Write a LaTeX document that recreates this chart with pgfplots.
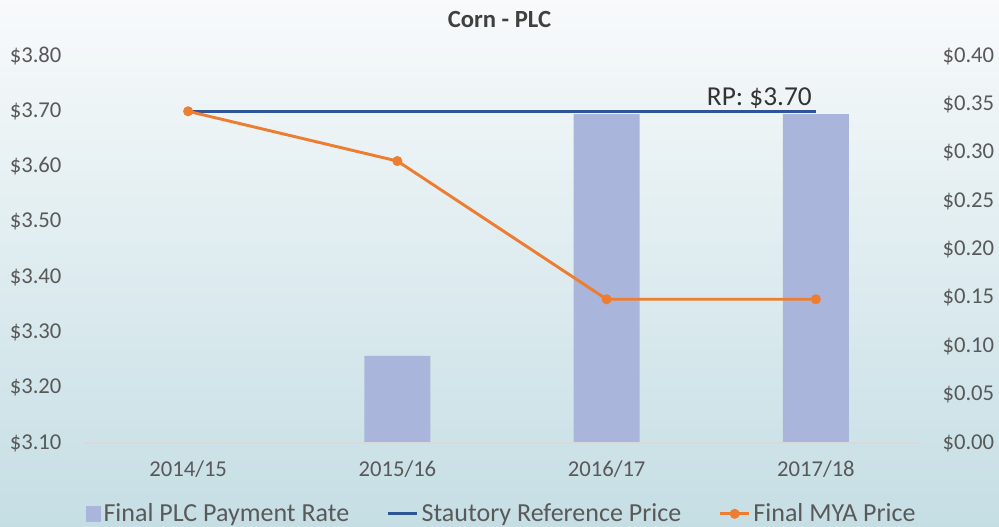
\documentclass[border=0pt]{standalone}
\usepackage{pgfplots}
\pgfplotsset{compat=1.18}
\usepackage{fontspec}
\setmainfont{Carlito}
\definecolor{barblue}{HTML}{A9B5DB}
\definecolor{refblue}{HTML}{2F5597}
\definecolor{myaorange}{HTML}{ED7D31}
\definecolor{labgray}{HTML}{595959}
\definecolor{bgtop}{HTML}{F8FAFB}
\definecolor{bgbot}{HTML}{C5DEE4}
\pgfplotsset{
  common/.style={
    scale only axis, width=627.75pt, height=290.25pt,
    at={(62.625pt,63pt)}, anchor=south west,
    xmin=-0.5, xmax=3.5, xtick={0,1,2,3},
    xticklabels={2014/15,2015/16,2016/17,2017/18},
    major tick length=0pt,
    tick label style={font=\fontsize{17}{19}\selectfont, text=labgray},
    /pgf/number format/assume math mode=true,
    yticklabel={\$\pgfmathprintnumber[fixed,fixed zerofill,precision=2]{\tick}},
    y axis line style={draw=none},
    clip=false,
  },
}
\begin{document}
\begin{tikzpicture}[x=0.75pt,y=0.75pt]
\shade[top color=bgtop, bottom color=bgbot] (0,0) rectangle (999,527);
% bars on the right axis
\begin{axis}[common, axis y line*=right, axis x line=none,
  ymin=0, ymax=0.4, ytick={0,0.05,...,0.4},
  yticklabel style={xshift=13pt},
  ybar, bar width=49.5pt]
\addplot[fill=barblue, draw=none] coordinates {(0,0) (1,0.09) (2,0.34) (3,0.34)};
\end{axis}
% prices on the left axis
\begin{axis}[common, axis y line*=left, axis x line*=bottom,
  x axis line style={draw=black!15, line width=1.5pt},
  ymin=3.1, ymax=3.8, ytick={3.1,3.2,...,3.8},
  yticklabel style={xshift=-13pt},
  xticklabel style={yshift=-10pt},
  legend columns=3,
  legend style={at={(0.5,-0.183)}, anchor=center, draw=none, fill=none,
    font=\fontsize{19.5}{21}\selectfont, text=labgray,
    /tikz/every even column/.append style={column sep=26pt},
    inner sep=0pt},
  legend cell align=left]
\addlegendimage{legend image code/.code={\fill[barblue] (0pt,-5.5pt) rectangle (11pt,5.5pt);}}
\addlegendentry{Final PLC Payment Rate}
\addplot[refblue, line width=2.3pt, legend image code/.code={\draw[refblue, line width=2.3pt] (0pt,0pt) -- (22pt,0pt);}]
  coordinates {(0,3.70) (1,3.70) (2,3.70) (3,3.70)};
\addlegendentry{Stautory Reference Price}
\addplot[myaorange, line width=2.2pt, mark=*, mark size=2.6pt, mark options={fill=myaorange, draw=myaorange},
  legend image code/.code={\draw[myaorange, line width=2.2pt] (0pt,0pt) -- (22pt,0pt); \fill[myaorange] (11pt,0pt) circle (2.6pt);}]
  coordinates {(0,3.70) (1,3.61) (2,3.36) (3,3.36)};
\addlegendentry{Final MYA Price}
\node[anchor=south, font=\fontsize{20.5}{22}\selectfont, text=black!80, inner sep=2pt] at (axis cs:2.73,3.70) {RP: \$3.70};
\end{axis}
\node[font=\bfseries\fontsize{18.5}{20}\selectfont, text=black!75] at (499.5,507) {Corn - PLC};
\end{tikzpicture}
\end{document}
